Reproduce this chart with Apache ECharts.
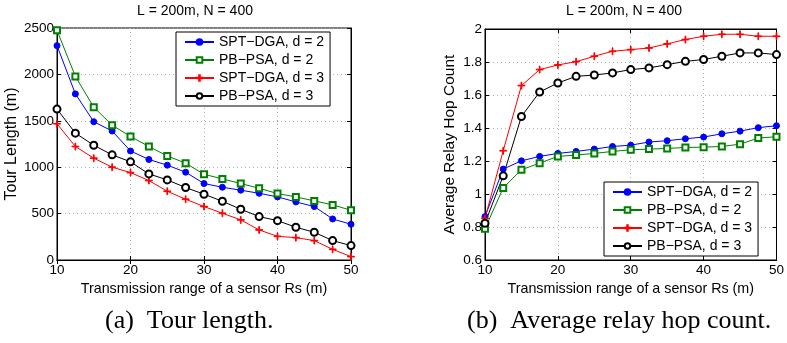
<!DOCTYPE html>
<html>
<head>
<meta charset="utf-8">
<script src="https://cdn.jsdelivr.net/npm/echarts@6/dist/echarts.min.js"></script>
<style>
  html, body { margin: 0; padding: 0; background: #fff; }
  #chart { width: 787px; height: 343px; }
</style>
</head>
<body>
<div id="chart"></div>
<script>
// transmission range Rs (m)
const ranges = [10, 12.5, 15, 17.5, 20, 22.5, 25, 27.5, 30, 32.5, 35, 37.5, 40, 42.5, 45, 47.5, 50];

// (a) tour length (m)
const tourSptD2 = [2310, 1790, 1490, 1390, 1175, 1083, 1022, 946, 824, 784, 752, 719, 680, 626, 576, 442, 385];
const tourPbD2 = [2475, 1978, 1647, 1453, 1331, 1223, 1122, 1043, 924, 874, 824, 773, 716, 680, 637, 594, 536];
const tourSptD3 = [1468, 1223, 1097, 1000, 942, 856, 741, 655, 576, 504, 432, 324, 255, 241, 209, 115, 36];
const tourPbD3 = [1626, 1367, 1237, 1133, 1058, 928, 863, 781, 709, 633, 547, 468, 424, 353, 299, 209, 155];

// (b) average relay hop count
const hopSptD2 = [0.863, 1.151, 1.201, 1.228, 1.246, 1.258, 1.272, 1.288, 1.296, 1.315, 1.323, 1.335, 1.345, 1.365, 1.381, 1.402, 1.414];
const hopPbD2 = [0.79, 1.037, 1.147, 1.187, 1.228, 1.236, 1.246, 1.258, 1.268, 1.272, 1.276, 1.282, 1.284, 1.288, 1.302, 1.339, 1.347];
const hopSptD3 = [0.853, 1.262, 1.657, 1.754, 1.782, 1.802, 1.835, 1.865, 1.875, 1.885, 1.91, 1.936, 1.956, 1.968, 1.968, 1.956, 1.956];
const hopPbD3 = [0.823, 1.11, 1.47, 1.618, 1.673, 1.713, 1.721, 1.734, 1.754, 1.764, 1.784, 1.804, 1.815, 1.835, 1.855, 1.855, 1.845];

const seriesNames = ["SPT\u2212DGA, d = 2", "PB\u2212PSA, d = 2", "SPT\u2212DGA, d = 3", "PB\u2212PSA, d = 3"];
const plotTitle = "L = 200m, N = 400";
const captions = ["(a)  Tour length.", "(b)  Average relay hop count."];

const font = "Liberation Sans, Arial, sans-serif";
const serif = "Liberation Serif, Times New Roman, serif";
const plusIcon = "path://M4.5,0h1v10h-1z M0,4.5h10v1h-10z";

const looks = [
    { color: "#0000ff", symbol: "circle", symbolSize: 6 },
    { color: "#008000", symbol: "emptyRect", symbolSize: 6 },
    { color: "#ff0000", symbol: plusIcon, symbolSize: 7 },
    { color: "#000000", symbol: "emptyCircle", symbolSize: 7 }
];

function makeSeries(values, i, axisIndex) {
    const look = looks[i];
    return {
        name: seriesNames[i],
        type: "line",
        xAxisIndex: axisIndex,
        yAxisIndex: axisIndex,
        data: ranges.map((r, k) => [r, values[k]]),
        symbol: look.symbol,
        symbolSize: look.symbolSize,
        showAllSymbol: true,
        animation: false,
        lineStyle: { color: look.color, width: 1 },
        itemStyle: { color: look.color, borderColor: look.color, borderWidth: 1 },
        z: 3
    };
}

function xAxisFor(gridIndex) {
    return {
        type: "value",
        gridIndex: gridIndex,
        min: 10,
        max: 50,
        interval: 10,
        name: "Transmission range of a sensor Rs (m)",
        nameLocation: "middle",
        nameGap: gridIndex === 0 ? 20 : 15,
        nameTextStyle: { fontFamily: font, fontSize: 14.3, color: "#000" },
        axisLine: { lineStyle: { color: "#000", width: 1 } },
        axisTick: { inside: true, length: 4, lineStyle: { color: "#000" } },
        axisLabel: { fontFamily: font, fontSize: 13.5, color: "#000", margin: 3 },
        splitLine: { show: true, lineStyle: { color: "#b0b0b0", type: [1, 3] } }
    };
}

function mirrorX(gridIndex) {
    return {
        type: "value", gridIndex: gridIndex, position: "top", min: 10, max: 50, interval: 10,
        axisLine: { lineStyle: { color: "#000" } },
        axisTick: { inside: true, length: 4, lineStyle: { color: "#000" } },
        axisLabel: { show: false }, splitLine: { show: false }
    };
}

function mirrorY(gridIndex, min, max, interval) {
    return {
        type: "value", gridIndex: gridIndex, position: "right", min: min, max: max, interval: interval,
        axisLine: { show: true, lineStyle: { color: "#000" } },
        axisTick: { show: true, inside: true, length: 4, lineStyle: { color: "#000" } },
        axisLabel: { show: false }, splitLine: { show: false }
    };
}

function legendAt(left, top) {
    return {
        orient: "vertical",
        left: left,
        top: top,
        backgroundColor: "#fff",
        borderColor: "#000",
        borderWidth: 1,
        padding: [3, 6, 3, 8],
        itemGap: 4,
        itemWidth: 29,
        itemHeight: 7,
        textStyle: { fontFamily: font, fontSize: 14, color: "#000" },
        data: seriesNames.slice()
    };
}

const chart = echarts.init(document.getElementById("chart"), null, { renderer: "canvas" });
chart.setOption({
    backgroundColor: "#fff",
    animation: false,
    grid: [
        { left: 57, top: 28, width: 294, height: 232, show: true, borderColor: "#000", borderWidth: 1 },
        { left: 485, top: 29, width: 294, height: 231, show: true, borderColor: "#000", borderWidth: 1 }
    ],
    legend: [
        Object.assign(legendAt(176, 32), { id: "legA" }),
        Object.assign(legendAt(604, 182), { id: "legB" })
    ],
    xAxis: [xAxisFor(0), xAxisFor(1), mirrorX(0), mirrorX(1)],
    yAxis: [
        {
            type: "value", gridIndex: 0, min: 0, max: 2500, interval: 500,
            name: "Tour Length (m)", nameLocation: "middle", nameGap: 28,
            nameTextStyle: { fontFamily: font, fontSize: 16, color: "#000" },
            axisLine: { show: true, lineStyle: { color: "#000" } },
            axisTick: { show: true, inside: true, length: 4, lineStyle: { color: "#000" } },
            axisLabel: { fontFamily: font, fontSize: 13.5, color: "#000", margin: 3, formatter: v => String(v) },
            splitLine: { show: true, lineStyle: { color: "#b0b0b0", type: [1, 3] } }
        },
        {
            type: "value", gridIndex: 1, min: 0.6, max: 2, interval: 0.2,
            name: "Average Relay Hop Count", nameLocation: "middle", nameGap: 27,
            nameTextStyle: { fontFamily: font, fontSize: 15.5, color: "#000" },
            axisLine: { show: true, lineStyle: { color: "#000" } },
            axisTick: { show: true, inside: true, length: 4, lineStyle: { color: "#000" } },
            axisLabel: {
                fontFamily: font, fontSize: 13.5, color: "#000", margin: 3,
                formatter: v => String(Math.round(v * 10) / 10)
            },
            splitLine: { show: true, lineStyle: { color: "#b0b0b0", type: [1, 3] } }
        },
        mirrorY(0, 0, 2500, 500),
        mirrorY(1, 0.6, 2, 0.2)
    ],
    graphic: [
        { type: "text", left: 137, top: 4, style: { text: plotTitle, font: "14px " + font, fill: "#000" } },
        { type: "text", left: 566, top: 4, style: { text: plotTitle, font: "14px " + font, fill: "#000" } },
        { type: "text", left: 105, top: 308, style: { text: captions[0], font: "26px " + serif, fill: "#000" } },
        { type: "text", left: 467, top: 308, style: { text: captions[1], font: "26px " + serif, fill: "#000" } }
    ],
    series: [
        makeSeries(tourSptD2, 0, 0),
        makeSeries(tourPbD2, 1, 0),
        makeSeries(tourSptD3, 2, 0),
        makeSeries(tourPbD3, 3, 0),
        makeSeries(hopSptD2, 0, 1),
        makeSeries(hopPbD2, 1, 1),
        makeSeries(hopSptD3, 2, 1),
        makeSeries(hopPbD3, 3, 1)
    ]
});
</script>
</body>
</html>
